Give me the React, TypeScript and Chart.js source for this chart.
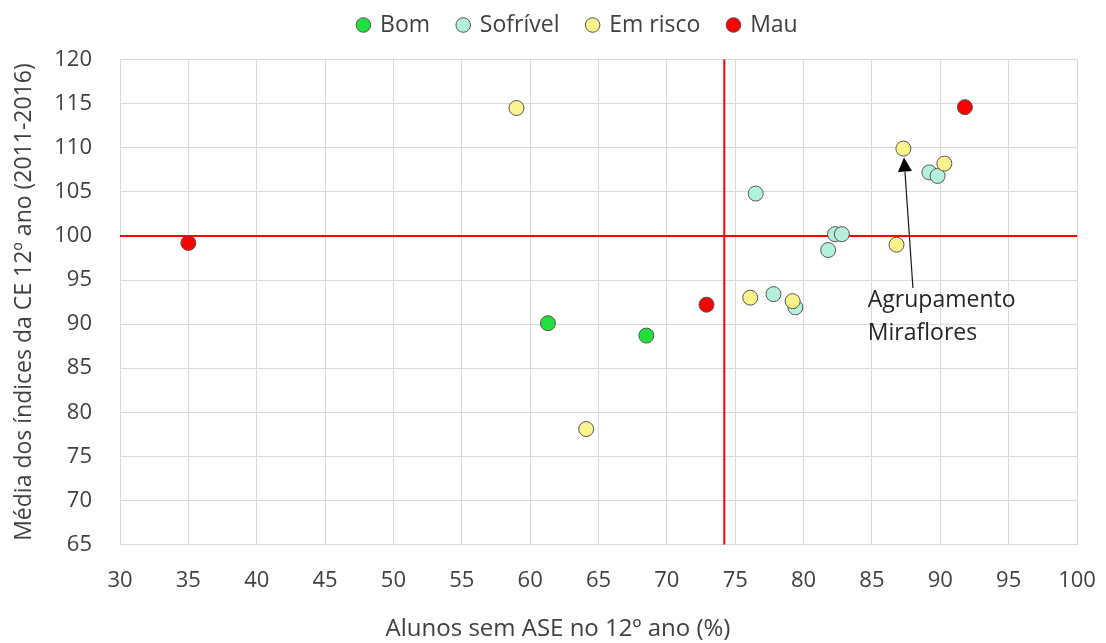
import React, { useEffect, useRef } from "react";
import { Chart, registerables, layouts } from "chart.js";

Chart.register(...registerables);

// ---- data ----
const seriesNames = ["Bom", "Sofrível", "Em risco", "Mau"];
const bomPoints = [
  { x: 61.3, y: 90.1 },
  { x: 68.5, y: 88.7 },
];
const sofrivelPoints = [
  { x: 76.5, y: 104.8 },
  { x: 82.3, y: 100.2 },
  { x: 82.8, y: 100.2 },
  { x: 81.8, y: 98.4 },
  { x: 89.2, y: 107.2 },
  { x: 89.8, y: 106.8 },
  { x: 77.8, y: 93.4 },
  { x: 79.4, y: 91.9 },
];
const emRiscoPoints = [
  { x: 59.0, y: 114.5 },
  { x: 87.3, y: 109.9 },
  { x: 90.3, y: 108.2 },
  { x: 86.8, y: 99.0 },
  { x: 76.1, y: 93.0 },
  { x: 79.2, y: 92.6 },
  { x: 64.1, y: 78.1 },
];
const mauPoints = [
  { x: 35.0, y: 99.2 },
  { x: 91.8, y: 114.6 },
  { x: 72.9, y: 92.2 },
];
const seriesColors = ["#22e03c", "#b3f1dc", "#f9f48c", "#ff0000"];
const xMin = 30, xMax = 100, xStep = 5;
const yMin = 65, yMax = 120, yStep = 5;
const referenceX = 74.2;
const referenceY = 100;
const annotationTarget = { x: 87.3, y: 109.9 };
const annotationTail = { x: 88.0, y: 94.1 };
const annotationTextAnchor = { x: 84.7, y: 94.0 };
const annotationLines = ["Agrupamento", "Miraflores"];
const xTitle = "Alunos sem ASE no 12º ano (%)";
const yTitle = "Média dos índices da CE 12º ano (2011-2016)";

const FONT = "'Open Sans', 'Noto Sans', sans-serif";
const TEXT = "#404040";

const spacerPlugin = {
  id: "legendSpacer",
  beforeInit(chart: any) {
    const box: any = {
      position: "top",
      weight: 500,
      fullSize: true,
      options: {},
      top: 0,
      left: 0,
      right: 0,
      bottom: 0,
      width: 0,
      height: 0,
      isHorizontal() {
        return true;
      },
      update(maxWidth: number) {
        this.width = maxWidth;
        this.height = 13;
      },
      getPadding() {
        return { left: 0, right: 0, top: 0, bottom: 0 };
      },
      draw() {},
    };
    layouts.addBox(chart, box);
  },
};

const overlayPlugin = {
  id: "overlay",
  beforeDatasetsDraw(chart: any) {
    const { ctx, chartArea, scales } = chart;
    const x = scales.x, y = scales.y;
    ctx.save();
    ctx.strokeStyle = "#ff0000";
    ctx.lineWidth = 2;
    const px = x.getPixelForValue(referenceX);
    const py = y.getPixelForValue(referenceY);
    ctx.beginPath();
    ctx.moveTo(px, chartArea.top);
    ctx.lineTo(px, chartArea.bottom);
    ctx.moveTo(chartArea.left, py);
    ctx.lineTo(chartArea.right, py);
    ctx.stroke();
    ctx.restore();
  },
  afterDatasetsDraw(chart: any) {
    const { ctx, scales } = chart;
    const x = scales.x, y = scales.y;
    const tx = x.getPixelForValue(annotationTarget.x);
    const ty = y.getPixelForValue(annotationTarget.y);
    const sx = x.getPixelForValue(annotationTail.x);
    const sy = y.getPixelForValue(annotationTail.y);
    const dx = tx - sx, dy = ty - sy;
    const len = Math.hypot(dx, dy);
    const ux = dx / len, uy = dy / len;
    const tipX = tx - ux * 9, tipY = ty - uy * 9;
    const headLen = 14, headW = 7;
    const baseX = tipX - ux * headLen, baseY = tipY - uy * headLen;
    ctx.save();
    ctx.strokeStyle = "#1a1a1a";
    ctx.fillStyle = "#000000";
    ctx.lineWidth = 1.2;
    ctx.beginPath();
    ctx.moveTo(sx, sy);
    ctx.lineTo(baseX, baseY);
    ctx.stroke();
    ctx.beginPath();
    ctx.moveTo(tipX, tipY);
    ctx.lineTo(baseX - uy * headW, baseY + ux * headW);
    ctx.lineTo(baseX + uy * headW, baseY - ux * headW);
    ctx.closePath();
    ctx.fill();
    ctx.fillStyle = "#262626";
    ctx.font = `23px ${FONT}`;
    ctx.textAlign = "left";
    ctx.textBaseline = "top";
    const lx = x.getPixelForValue(annotationTextAnchor.x);
    const ly = y.getPixelForValue(annotationTextAnchor.y);
    annotationLines.forEach((t, i) => ctx.fillText(t, lx, ly + i * 33));
    ctx.restore();
  },
  afterDraw(chart: any) {
    const { ctx } = chart;
    ctx.save();
    ctx.fillStyle = TEXT;
    ctx.font = `24px ${FONT}`;
    ctx.textAlign = "center";
    ctx.textBaseline = "middle";
    ctx.fillText(xTitle, chart.width / 2 + 5, chart.height - 14);
    ctx.restore();
  },
};

export default function App() {
  const ref = useRef<HTMLCanvasElement | null>(null);
  useEffect(() => {
    if (!ref.current) return;
    const allSeries = [bomPoints, sofrivelPoints, emRiscoPoints, mauPoints];
    const orders = [3, 4, 1, 2];
    const chart = new Chart(ref.current, {
      type: "scatter",
      data: {
        datasets: allSeries.map((pts, i) => ({
          label: seriesNames[i],
          data: pts,
          backgroundColor: seriesColors[i],
          borderColor: "#555555",
          borderWidth: 1,
          pointRadius: 7.5,
          pointHoverRadius: 7.5,
          pointStyle: "circle",
          order: orders[i],
        })),
      },
      options: {
        animation: false,
        responsive: true,
        maintainAspectRatio: false,
        layout: { padding: { top: -14.5, right: 29, bottom: 0, left: 79 } },
        plugins: {
          legend: {
            position: "top",
            labels: {
              usePointStyle: true,
              boxWidth: 10.3,
              boxHeight: 10.3,
              padding: 28,
              color: TEXT,
              font: { family: FONT, size: 23 },
              sort: (a: any, b: any) => a.datasetIndex - b.datasetIndex,
            },
          },
          tooltip: { enabled: false },
        },
        scales: {
          x: {
            type: "linear",
            min: xMin,
            max: xMax,
            ticks: {
              stepSize: xStep,
              color: TEXT,
              font: { family: FONT, size: 22 },
              padding: 2,
              maxRotation: 0,
              autoSkip: false,
            },
            grid: {
              color: "#d9d9d9",
              lineWidth: 1,
              drawTicks: true,
              tickLength: 21,
              tickColor: "rgba(0,0,0,0)",
            },
            border: { color: "#d9d9d9" },
            title: { display: false },
            afterFit(scale: any) {
              scale.height = 98.4;
            },
          },
          y: {
            type: "linear",
            min: yMin,
            max: yMax,
            ticks: {
              stepSize: yStep,
              color: TEXT,
              font: { family: FONT, size: 22 },
              mirror: true,
              crossAlign: "far",
              padding: -65.75,
            },
            grid: { color: "#d9d9d9", lineWidth: 1, drawTicks: false },
            border: { color: "#d9d9d9" },
            title: {
              display: true,
              text: yTitle,
              color: TEXT,
              font: { family: FONT, size: 23 },
              padding: { top: -68.8, bottom: 4 },
            },
            afterFit(scale: any) {
              scale.width = 41;
            },
          },
        },
      },
      plugins: [spacerPlugin, overlayPlugin],
    } as any);
    return () => chart.destroy();
  }, []);
  return (
    <div style={{ position: "fixed", left: 0, top: 0, width: 1106, height: 643, background: "#fff" }}>
      <canvas ref={ref} />
    </div>
  );
}
